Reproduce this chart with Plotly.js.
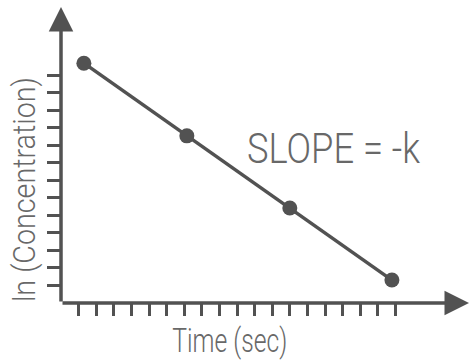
<!DOCTYPE html>
<html>
<head>
<meta charset="utf-8">
<script src="https://cdn.plot.ly/plotly-3.0.1.min.js"></script>
<style>html,body{margin:0;padding:0;background:#fff;}#chart{width:474px;height:361px;}</style>
</head>
<body>
<div id="chart"></div>
<script>
// Data (arbitrary time / ln units)
var times = [1.3, 7.15, 13.0, 18.8];
var lnConc = [13.7, 9.55, 5.43, 1.31];
var xTickVals = [1,2,3,4,5,6,7,8,9,10,11,12,13,14,15,16,17,18,19];
var yTickVals = [1,2,3,4,5,6,7,8,9,10,11,12,13];
var xTitle = "Time (sec)";
var yTitle = "ln (Concentration)";
var slopeLabel = "SLOPE = -k";

var xMax = 23.18, yMax = 16.91;
var ink = "#525252";
var txt = "#686868";
var fam = "Roboto, Noto Sans, sans-serif";

var trace = {
  x: times, y: lnConc, type: "scatter", mode: "lines+markers",
  line: {color: ink, width: 3.5},
  marker: {color: ink, size: 15},
  cliponaxis: false, hoverinfo: "none"
};

var PL = 61, PR = 5, PT = 7, PB = 58;
var pw = 474 - PL - PR, ph = 361 - PT - PB;
function px(x){ return (x - PL) / pw; }
function py(y){ return (361 - PB - y) / ph; }

var layout = {
  width: 474, height: 361,
  margin: {l: PL, r: PR, t: PT, b: PB},
  paper_bgcolor: "#fff", plot_bgcolor: "#fff",
  showlegend: false,
  xaxis: {range: [0, xMax], showline: false, zeroline: false, showgrid: false,
          tickmode: "array", tickvals: xTickVals, showticklabels: false,
          ticks: "outside", ticklen: 12, tickwidth: 3, tickcolor: ink, fixedrange: true},
  yaxis: {range: [0, yMax], showline: false, zeroline: false, showgrid: false,
          tickmode: "array", tickvals: yTickVals, showticklabels: false,
          ticks: "outside", ticklen: 13, tickwidth: 3, tickcolor: ink, fixedrange: true},
  annotations: [
    {x: xMax, y: 0, ax: 0, ay: 0, axref: "x", ayref: "y", xref: "x", yref: "y",
     text: "", showarrow: true, arrowhead: 2, arrowsize: 1.4, arrowwidth: 3.5, arrowcolor: ink},
    {x: 0, y: yMax, ax: 0, ay: 0, axref: "x", ayref: "y", xref: "x", yref: "y",
     text: "", showarrow: true, arrowhead: 2, arrowsize: 1.4, arrowwidth: 3.5, arrowcolor: ink},
    {x: px(333.5), y: py(147.5), xref: "paper", yref: "paper", text: slopeLabel, showarrow: false,
     xanchor: "center", yanchor: "middle", font: {family: fam, size: 43, weight: 300, color: txt}},
    {x: px(230), y: py(340), xref: "paper", yref: "paper", text: xTitle, showarrow: false,
     xanchor: "center", yanchor: "middle", font: {family: fam, size: 33, weight: 300, color: txt}},
    {x: px(24), y: py(190), xref: "paper", yref: "paper", text: yTitle, showarrow: false,
     textangle: -90, xanchor: "center", yanchor: "middle", font: {family: fam, size: 32, weight: 300, color: txt}}
  ]
};

// condensed look: fit each label to its width in the picture
var fitWidths = {};
fitWidths[slopeLabel] = 173;
fitWidths[xTitle] = 115;
fitWidths[yTitle] = 225;

Plotly.newPlot("chart", [trace], layout, {staticPlot: true, displayModeBar: false}).then(function(gd){
  var nodes = gd.querySelectorAll("text.annotation-text");
  nodes.forEach(function(t){
    var w = fitWidths[t.textContent];
    if (w) {
      t.setAttribute("textLength", w);
      t.setAttribute("lengthAdjust", "spacingAndGlyphs");
    }
  });
});
</script>
</body>
</html>
